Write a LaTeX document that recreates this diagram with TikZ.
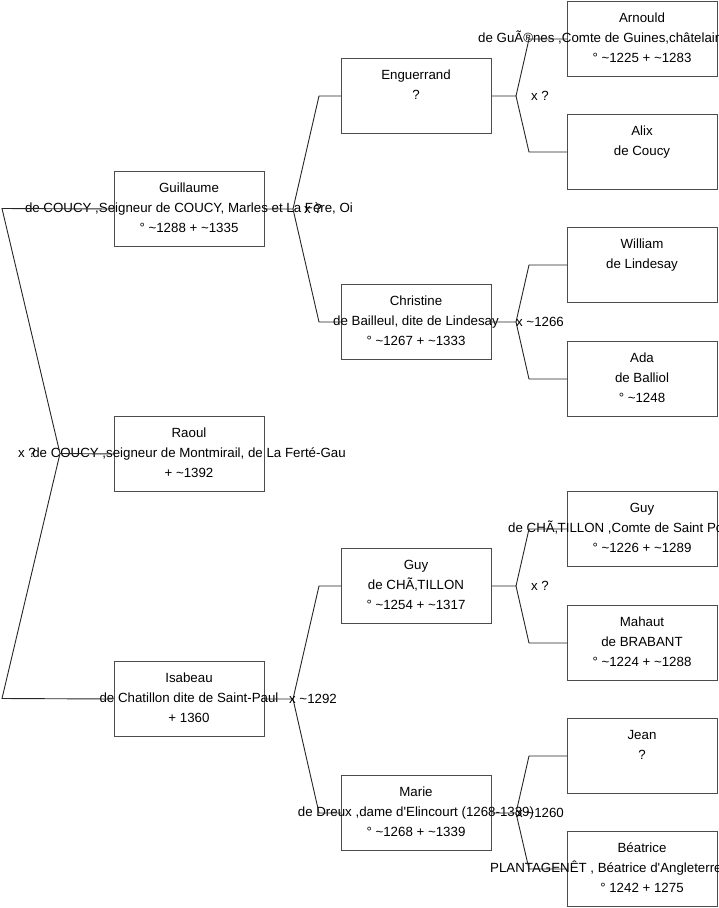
\documentclass[tikz,border=0pt]{standalone}
\usepackage{fontspec}
\setmainfont{Liberation Sans}[Ligatures=TeXOff]
\newcommand\tld{\char"7E\relax}
\begin{document}
\begin{tikzpicture}[x=1pt,y=-1pt,
  box/.style={draw=black!70, line width=1pt, minimum width=150pt, minimum height=75pt, inner sep=0pt, anchor=north west},
  link/.style={draw=black!85, line width=0.9pt},
  txt/.style={anchor=base, inner sep=0pt, font=\fontsize{13.3}{16}\selectfont},
  ltxt/.style={anchor=base west, inner sep=0pt, font=\fontsize{13.3}{16}\selectfont},
  lbl/.style={anchor=base, inner sep=0pt, font=\fontsize{13.3}{16}\selectfont}]
\useasboundingbox (0,0) rectangle (719,908);
\newcommand\psn[6]{%
  \node[box] (#1) at (#2,#3) {};
  \node[txt] (#1-a) at (#2+75,#3+21) {#4};
  \node[txt] (#1-b) at (#2+75,#3+41) {#5};
  \node[txt] (#1-c) at (#2+75,#3+61) {#6};}
\newcommand\psw[7]{% box with west-anchored second line at x #5
  \node[box] (#1) at (#2,#3) {};
  \node[txt] (#1-a) at (#2+75,#3+21) {#4};
  \node[ltxt] (#1-b) at (#5,#3+41) {#6};
  \node[txt] (#1-c) at (#2+75,#3+61) {#7};}
\newcommand\fork[6]{% parent, child1, child2, vertex shift, end shift, label
  \draw[link] (#1.east) -- ([xshift=#4]#1.east) coordinate (#1-v) -- ([xshift=-#5]#2.west) -- (#2.west);
  \draw[link] (#1-v) -- ([xshift=-#5]#3.west) -- (#3.west);
  \node[lbl] (#1-l) at ([xshift=48pt,yshift=-4pt]#1.east) {#6};}
% level 1
\psn{guil}{114}{171}{Guillaume}{de COUCY ,Seigneur de COUCY, Marles et La Fère, Oi}{° \tld1288 + \tld1335}
\psn{raoul}{114}{416}{Raoul}{de COUCY ,seigneur de Montmirail, de La Ferté-Gau}{+ \tld1392}
\psn{isab}{114}{661}{Isabeau}{de Chatillon dite de Saint-Paul}{+ 1360}
% level 2
\psn{engu}{341}{58}{Enguerrand}{?}{}
\psn{chri}{341}{284}{Christine}{de Bailleul, dite de Lindesay}{° \tld1267 + \tld1333}
\psn{guyb}{341}{548}{Guy}{de CHÃ‚TILLON}{° \tld1254 + \tld1317}
\psn{marie}{341}{775}{Marie}{de Dreux ,dame d'Elincourt (1268-1339)}{° \tld1268 + \tld1339}
% level 3
\psw{arn}{567}{1}{Arnould}{478}{de GuÃ®nes ,Comte de Guines,châtelain}{° \tld1225 + \tld1283}
\psn{alix}{567}{114}{Alix}{de Coucy}{}
\psn{will}{567}{227}{William}{de Lindesay}{}
\psn{ada}{567}{341}{Ada}{de Balliol}{° \tld1248}
\psw{guyc}{567}{491}{Guy}{508}{de CHÃ‚TILLON ,Comte de Saint Pol}{° \tld1226 + \tld1289}
\psn{mah}{567}{605}{Mahaut}{de BRABANT}{° \tld1224 + \tld1288}
\psn{jean}{567}{718}{Jean}{?}{}
\psw{beat}{567}{831}{Béatrice}{490}{PLANTAGENÊT , Béatrice d'Angleterre}{° 1242 + 1275}
% root connector
\coordinate (v0) at (60,453.5);
\coordinate (g0) at (2,208.5);
\coordinate (i0) at (2,698.5);
\draw[link] (raoul.west) -- (v0) -- (g0) -- (guil.west);
\draw[link] (v0) -- (i0) -- (isab.west);
\node[lbl] (raoul-l) at (27,457) {x ?};
% forks
\fork{guil}{engu}{chri}{28pt}{22pt}{x ?}
\fork{isab}{guyb}{marie}{28pt}{22pt}{x \tld1292}
\fork{engu}{arn}{alix}{24pt}{38pt}{x ?}
\fork{chri}{will}{ada}{24pt}{38pt}{x \tld1266}
\fork{guyb}{guyc}{mah}{24pt}{38pt}{x ?}
\fork{marie}{jean}{beat}{24pt}{38pt}{x \tld1260}
\end{tikzpicture}
\end{document}
